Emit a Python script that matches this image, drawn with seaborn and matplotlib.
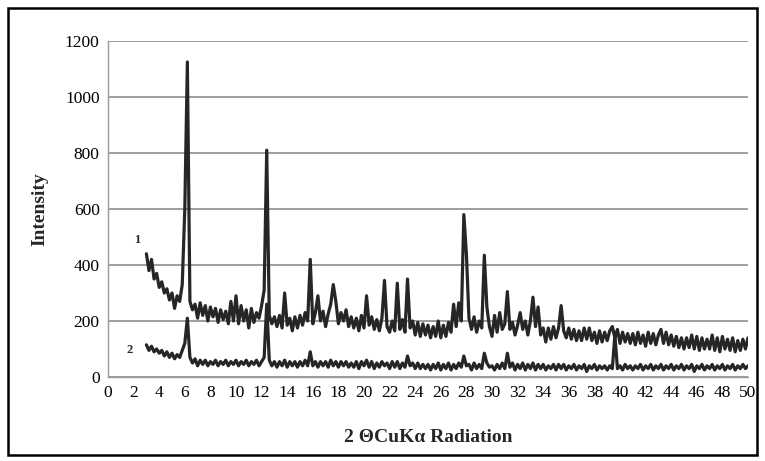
import numpy as np
import pandas as pd
import matplotlib
matplotlib.use("Agg")
import matplotlib.pyplot as plt
from matplotlib.patches import Rectangle
import seaborn as sns

# 2-theta positions (degrees), 0.2 step from 3.0 to 50.0
two_theta = [round(3.0 + 0.2 * i, 1) for i in range(236)]

# Curve 1 intensities
curve1 = [
    440, 380, 420, 350, 370, 320, 340, 300, 315, 275,   # 3-5
    300, 245, 290, 270, 330, 600, 1125, 270, 240, 260,  # 5-7
    210, 265, 220, 255, 200, 250, 215, 245, 195, 240,   # 7-9
    205, 235, 190, 270, 200, 290, 190, 255, 200, 240,   # 9-11
    175, 245, 195, 230, 210, 255, 310, 810, 220, 190,   # 11-13
    215, 180, 220, 175, 300, 185, 210, 165, 215, 175,   # 13-15
    220, 185, 230, 200, 420, 190, 230, 290, 200, 235,   # 15-17
    180, 225, 260, 330, 270, 190, 230, 200, 240, 180,   # 17-19
    215, 175, 210, 165, 220, 175, 290, 185, 215, 170,   # 19-21
    205, 165, 210, 345, 180, 160, 200, 165, 335, 170,   # 21-23
    205, 160, 350, 175, 200, 150, 195, 145, 190, 150,   # 23-25
    185, 140, 180, 145, 200, 140, 185, 145, 195, 160,   # 25-27
    260, 180, 265, 200, 580, 440, 210, 170, 215, 160,   # 27-29
    200, 175, 435, 250, 180, 145, 220, 160, 230, 170,   # 29-31
    190, 305, 170, 195, 150, 185, 230, 170, 200, 150,   # 31-33
    200, 285, 180, 250, 150, 175, 125, 175, 135, 180,   # 33-35
    140, 175, 255, 165, 140, 175, 135, 170, 130, 165,   # 35-37
    130, 175, 135, 175, 130, 160, 120, 165, 125, 160,   # 37-39
    130, 165, 180, 140, 170, 120, 160, 125, 155, 120,   # 39-41
    155, 115, 160, 120, 150, 110, 160, 120, 155, 115,   # 41-43
    150, 170, 120, 160, 115, 150, 110, 145, 105, 140,   # 43-45
    100, 140, 105, 150, 100, 145, 95, 140, 100, 135,    # 45-47
    100, 150, 95, 140, 90, 145, 100, 135, 95, 140,      # 47-49
    90, 130, 95, 135, 100, 140,                         # 49-50
]

# Curve 2 intensities
curve2 = [
    115, 95, 110, 90, 100, 85, 95, 75, 90, 70,
    85, 65, 80, 70, 95, 120, 210, 70, 50, 65,
    40, 60, 45, 60, 40, 55, 45, 60, 40, 55,
    45, 60, 40, 55, 45, 60, 40, 55, 45, 60,
    40, 55, 45, 60, 40, 55, 70, 260, 60, 40,
    55, 35, 55, 40, 60, 35, 55, 40, 55, 35,
    55, 40, 60, 40, 90, 40, 55, 35, 55, 40,
    55, 35, 60, 40, 55, 35, 55, 40, 55, 35,
    50, 35, 55, 30, 55, 40, 60, 35, 55, 30,
    50, 35, 55, 40, 50, 30, 55, 35, 55, 30,
    50, 35, 75, 40, 50, 30, 50, 30, 45, 30,
    45, 25, 45, 30, 50, 25, 45, 30, 50, 25,
    45, 30, 50, 35, 75, 40, 45, 25, 50, 30,
    45, 30, 85, 50, 35, 40, 25, 45, 30, 50,
    30, 85, 35, 50, 25, 45, 30, 50, 25, 45,
    30, 50, 25, 45, 30, 45, 25, 40, 30, 45,
    25, 45, 30, 45, 25, 40, 30, 45, 25, 40,
    30, 45, 20, 40, 30, 45, 25, 40, 30, 40,
    25, 40, 30, 150, 30, 40, 25, 45, 30, 40,
    25, 40, 30, 45, 25, 40, 30, 45, 25, 40,
    30, 45, 25, 40, 30, 45, 25, 40, 30, 45,
    25, 40, 30, 45, 20, 40, 30, 45, 25, 40,
    30, 45, 25, 40, 30, 45, 25, 40, 30, 45,
    25, 40, 30, 45, 30, 40,
]

series_labels = ["1", "2"]
x_ticks = list(range(0, 51, 2))
y_ticks = list(range(0, 1201, 200))

df = pd.DataFrame({
    "two_theta": two_theta * 2,
    "intensity": curve1 + curve2,
    "series": ["1"] * len(curve1) + ["2"] * len(curve2),
})

sns.set_style("white")
plt.rcParams["font.family"] = ["Liberation Serif", "DejaVu Serif"]

fig = plt.figure(figsize=(7.65, 4.61), dpi=100)
ax = fig.add_axes([108 / 765, 1 - 377 / 461, 640 / 765, 336 / 461])

sns.lineplot(data=df, x="two_theta", y="intensity", hue="series",
             palette=["#262626", "#262626"], linewidth=2.3, legend=False,
             ax=ax, estimator=None, sort=False)

ax.set_xlim(0, 50)
ax.set_ylim(0, 1200)
ax.set_xticks(x_ticks)
ax.set_yticks(y_ticks)
ax.set_xticklabels([str(t) for t in x_ticks], fontsize=12.5)
ax.set_yticklabels([str(t) for t in y_ticks], fontsize=12.5)
ax.yaxis.grid(True, color="#8c8c8c", linewidth=1.2)
ax.set_axisbelow(True)
for s in ["top", "right"]:
    ax.spines[s].set_visible(False)
for s in ["left", "bottom"]:
    ax.spines[s].set_color("#999999")
    ax.spines[s].set_linewidth(1.0)
ax.tick_params(axis="both", direction="out", length=4, color="#999999",
               width=1.0, pad=2, labelcolor="black")

ax.set_xlabel("2 ΘCuKα Radiation", fontsize=14, fontweight="bold", labelpad=20)
ax.set_ylabel("Intensity", fontsize=14, fontweight="bold", labelpad=12)

ax.text(2.3, 490, series_labels[0], fontsize=9, fontweight="bold",
        ha="center", va="center")
ax.text(1.7, 96, series_labels[1], fontsize=9, fontweight="bold",
        ha="center", va="center")

fig.patches.append(Rectangle((8 / 765, 1 - 455 / 461), 749 / 765, 447 / 461,
                             transform=fig.transFigure, fill=False,
                             edgecolor="black", linewidth=1.8))

fig.savefig("out.png", dpi=100)
